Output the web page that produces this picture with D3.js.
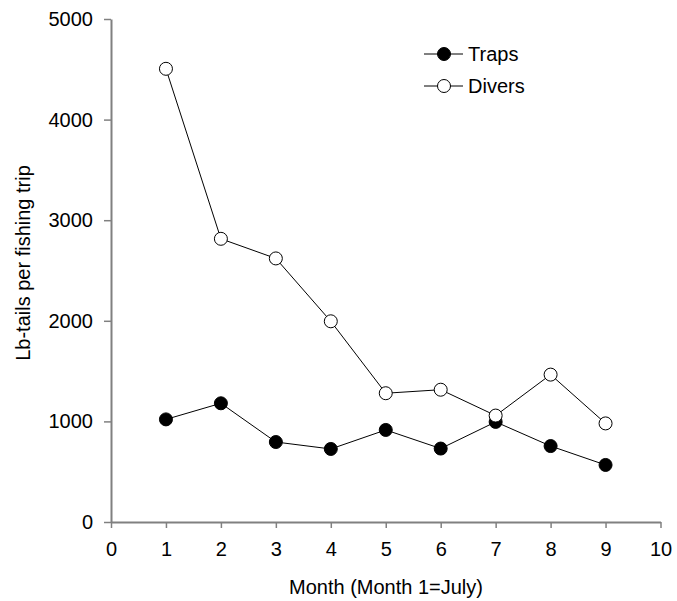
<!DOCTYPE html>
<html><head><meta charset="utf-8">
<script src="https://cdn.jsdelivr.net/npm/d3@7"></script>
<style>body{margin:0;background:#fff}svg{display:block}text{font-family:"Liberation Sans",Arial,sans-serif;fill:#000}</style>
</head><body>
<svg id="c" width="677" height="601"></svg>
<script>
const months = [1,2,3,4,5,6,7,8,9];
const traps  = [1020,1180,795,726,915,730,995,755,567];
const divers = [4505,2815,2620,1995,1280,1315,1058,1465,980];
const xTicks = [0,1,2,3,4,5,6,7,8,9,10];
const yTicks = [0,1000,2000,3000,4000,5000];
const seriesNames = ["Traps","Divers"];

const svg = d3.select("#c");
const x = d3.scaleLinear().domain([0,10]).range([111,660.5]);
const y = d3.scaleLinear().domain([0,5000]).range([522,19]);
const axisColor = "#808080";

const xAxis = svg.append("g").attr("transform","translate(0,522)")
  .call(d3.axisBottom(x).tickValues(xTicks).tickFormat(d3.format("d")).tickSize(6).tickPadding(14).tickSizeOuter(0));
const yAxis = svg.append("g").attr("transform","translate(111,0)")
  .call(d3.axisLeft(y).tickValues(yTicks).tickFormat(d3.format("d")).tickSize(7).tickPadding(11).tickSizeOuter(0));
[xAxis,yAxis].forEach(a=>{
  a.select(".domain").attr("stroke",axisColor).attr("stroke-width",2);
  a.selectAll(".tick line").attr("stroke",axisColor).attr("stroke-width",1.5);
  a.selectAll(".tick text").attr("font-size",20).attr("font-family","Liberation Sans, Arial, sans-serif").attr("fill","#000");
});

svg.append("text").attr("x",386).attr("y",594).attr("text-anchor","middle").attr("font-size",20).text("Month (Month 1=July)");
svg.append("text").attr("transform","translate(30,263) rotate(-90)").attr("text-anchor","middle").attr("font-size",20).text("Lb-tails per fishing trip");

const line = d3.line().x((d,i)=>x(months[i])).y(d=>y(d));
const data = [traps, divers];
const fills = ["#000","#fff"];
[0,1].forEach(k=>{
  svg.append("path").datum(data[k]).attr("d",line).attr("fill","none").attr("stroke","#000").attr("stroke-width",1);
});
[0,1].forEach(k=>{
  svg.append("g").selectAll("circle").data(data[k]).join("circle")
    .attr("cx",(d,i)=>x(months[i])).attr("cy",d=>y(d)).attr("r",6.5)
    .attr("fill",fills[k]).attr("stroke","#000").attr("stroke-width",1);
});

const ly = [54,86];
seriesNames.forEach((n,k)=>{
  const g = svg.append("g");
  g.append("line").attr("x1",424).attr("x2",463).attr("y1",ly[k]).attr("y2",ly[k]).attr("stroke","#000").attr("stroke-width",1);
  g.append("circle").attr("cx",444).attr("cy",ly[k]).attr("r",6.5).attr("fill",fills[k]).attr("stroke","#000");
  g.append("text").attr("x",468).attr("y",ly[k]).attr("dy","0.35em").attr("font-size",20).text(n);
});
</script>
</body></html>
